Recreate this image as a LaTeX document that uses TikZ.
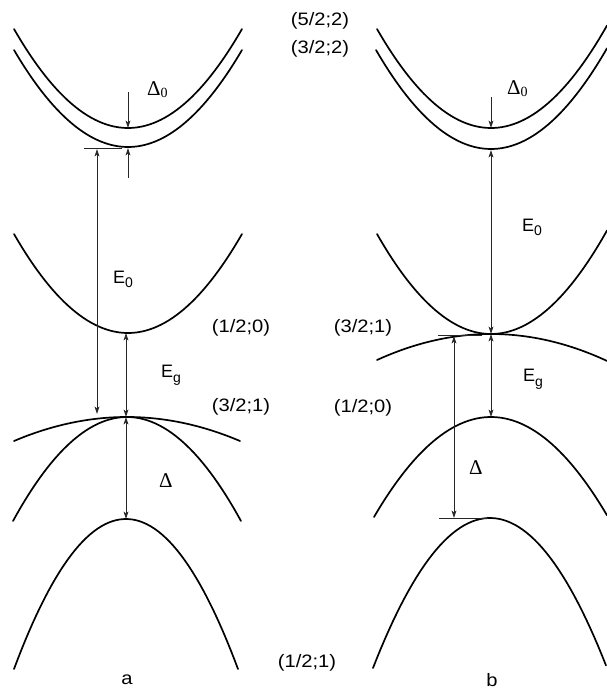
\documentclass[tikz,border=0pt]{standalone}
\usepackage{fontspec}
\setmainfont{Liberation Sans}
\newfontfamily\labfont[FakeStretch=1.12]{Liberation Sans}
\newfontfamily\serifd{Liberation Serif}
\usetikzlibrary{arrows.meta}
\newcommand\lowsub[2]{\raisebox{-#1}{\fontsize{14}{14}\selectfont #2}}
\begin{document}
\begin{tikzpicture}[x=1pt,y=-1pt,
  band/.style={line width=1.7pt, line cap=round},
  tip/.tip={Stealth[length=7.5pt,width=4.8pt,inset=2pt]},
  dim/.style={line width=0.8pt, draw=black!85, -tip},
  ddim/.style={line width=0.8pt, draw=black!85, tip-tip},
  tick/.style={line width=0.8pt, draw=black!85},
  lab/.style={font=\labfont\fontsize{18}{18}\selectfont, inner sep=0pt},
  sym/.style={inner sep=0pt, anchor=base west},
  dfont/.style={font=\serifd\fontsize{21}{21}\selectfont},
  efont/.style={font=\fontsize{18}{18}\selectfont},
]
\useasboundingbox (0,0) rectangle (607,689);

% ---------------- panel a ----------------
\draw[band] plot[domain=-114:114, samples=60] ({128+\x},{128-99*(\x/114)^2});
\draw[band] plot[domain=-114:114, samples=60] ({128+\x},{147-97*(\x/114)^2});
\draw[band] plot[domain=-114:114, samples=60] ({128+\x},{333-99*(\x/114)^2});
\draw[band] plot[domain=-113:113, samples=60] ({127+\x},{417+24*(\x/113)^2});
\draw[band] plot[domain=-114:114, samples=60] ({127+\x},{417+104*(\x/114)^2});
\draw[band] plot[domain=-112:112, samples=60] ({126+\x},{519+150*(\x/112)^2});

\coordinate (a0top) at (128,92);
\coordinate (a0up) at (128,128);
\coordinate (a0low) at (128,148);
\coordinate (a0bot) at (128,178);
\coordinate (atickL) at (84,148);
\coordinate (atickR) at (122,148);
\coordinate (aE0t) at (97,149);
\coordinate (aE0b) at (97,414);
\coordinate (aEgt) at (126,333);
\coordinate (aEgb) at (126,417);
\coordinate (aDb) at (126,519);

\draw[dim] (a0top) -- (a0up);
\draw[dim] (a0bot) -- (a0low);
\draw[tick] (atickL) -- (atickR);
\draw[ddim] (aE0t) -- (aE0b);
\draw[ddim] (aEgt) -- (aEgb);
\draw[ddim] (aEgb) -- (aDb);

\node[sym, dfont] (aD0) at (147,95) {Δ\lowsub{2pt}{0}};
\node[sym, efont] (aE0) at (113,283) {E\lowsub{4pt}{0}};
\node[sym, efont] (aEg) at (161,377) {E\lowsub{5pt}{g}};
\node[sym, dfont] (aD) at (159,487) {Δ};

% ---------------- panel b ----------------
\draw[band] plot[domain=-114:116, samples=60] ({491+\x},{128-99*(\x/114)^2});
\draw[band] plot[domain=-115:116, samples=60] ({491+\x},{149-99*(\x/115)^2});
\draw[band] plot[domain=-114:116, samples=60] ({491+\x},{334-100*(\x/114)^2});
\draw[band] plot[domain=-114:116, samples=60] ({491+\x},{334+26*(\x/114)^2});
\draw[band] plot[domain=-117:116, samples=60] ({491+\x},{417+100*(\x/117)^2});
\draw[band] plot[domain=-117:116, samples=60] ({490+\x},{518+150*(\x/117)^2});

\coordinate (b0top) at (491,97);
\coordinate (b0up) at (491,128);
\coordinate (bE0t) at (491,150);
\coordinate (bE0b) at (491,334);
\coordinate (bEgb) at (491,417);
\coordinate (btickL) at (438,335);
\coordinate (btickR) at (482,335);
\coordinate (bDt) at (454,336);
\coordinate (bDb) at (454,518);
\coordinate (btick2L) at (439,518);
\coordinate (btick2R) at (488,518);

\draw[dim] (b0top) -- (b0up);
\draw[ddim] (bE0t) -- (bE0b);
\draw[ddim] (bE0b) -- (bEgb);
\draw[tick] (btickL) -- (btickR);
\draw[tick] (btick2L) -- (btick2R);
\draw[ddim] (bDt) -- (bDb);

\node[sym, dfont] (bD0) at (507,94) {Δ\lowsub{2pt}{0}};
\node[sym, efont] (bE0) at (522,231) {E\lowsub{4pt}{0}};
\node[sym, efont] (bEg) at (523,381) {E\lowsub{5pt}{g}};
\node[sym, dfont] (bD) at (469,474) {Δ};

% ---------------- state labels ----------------
\node[lab] (s52) at (320,21) {(5/2;2)};
\node[lab] (s32) at (320,49) {(3/2;2)};
\node[lab] (a120) at (241,328) {(1/2;0)};
\node[lab] (a321) at (241,407) {(3/2;1)};
\node[lab] (b321) at (363,328) {(3/2;1)};
\node[lab] (b120) at (363,408) {(1/2;0)};
\node[lab] (s121) at (307,663) {(1/2;1)};
\node[lab] (la) at (127,680) {a};
\node[lab] (lb) at (492,680) {b};
\end{tikzpicture}
\end{document}
